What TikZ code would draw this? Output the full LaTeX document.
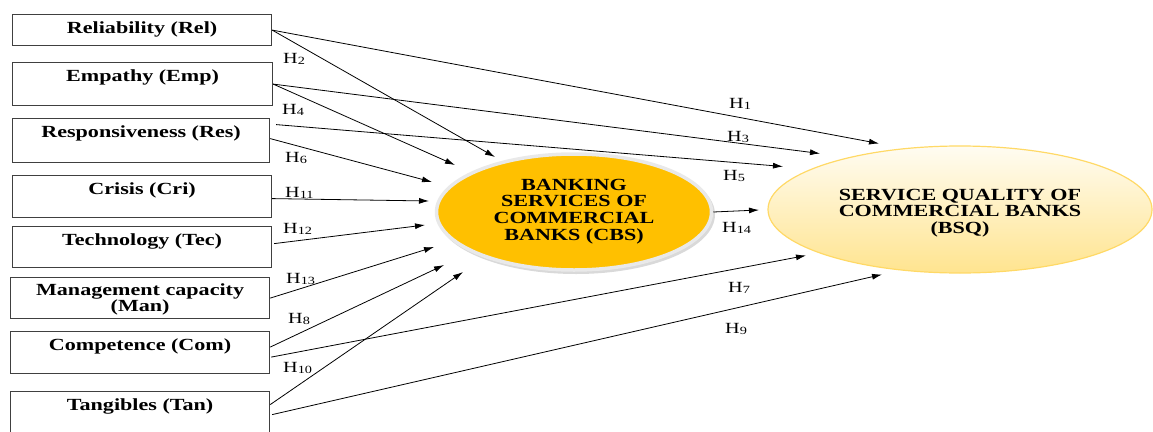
\documentclass[tikz,border=0pt]{standalone}
\usepackage{fontspec}
\setmainfont{Liberation Serif}
\newfontfamily\wideserif[FakeStretch=1.3]{Liberation Serif}
\usetikzlibrary{shapes.geometric,arrows.meta,calc}
\definecolor{cbsor}{HTML}{FFC000}
\definecolor{cbsrim}{HTML}{E9E9E9}
\definecolor{bsqtop}{HTML}{FFFCF2}
\definecolor{bsqbot}{HTML}{FFE48F}
\definecolor{bsqline}{HTML}{FFD966}
\definecolor{boxline}{HTML}{404040}
\newcommand\hyp[1]{H\raisebox{-1.5pt}{\fontsize{11}{11}\selectfont #1}}
\begin{document}
\begin{tikzpicture}[x=1pt,y=-1pt,
  basebox/.style={draw=boxline, line width=1.2pt, anchor=north west, inner xsep=0pt, inner ysep=0pt,
    font=\wideserif\bfseries\fontsize{17}{16}\selectfont},
  factor/.style={basebox, text height=19pt, text depth=#1},
  hlab/.style={anchor=base west, inner sep=0pt, font=\wideserif\fontsize{15.5}{16}\selectfont},
  arr/.style={-{Latex[length=10pt,width=6pt]}, line width=0.8pt},
  bigtext/.style={font=\wideserif\bfseries\fontsize{17}{16.8}\selectfont, align=center, inner sep=0pt}]
\useasboundingbox (0,0) rectangle (1153,431);

% factor boxes
\node[factor=12pt, minimum width=259pt] (rel) at (12,14) {Reliability (Rel)};
\node[factor=24pt, minimum width=260pt] (emp) at (12,62) {Empathy (Emp)};
\node[factor=25pt, minimum width=257pt] (res) at (12,118) {Responsiveness (Res)};
\node[factor=23pt, minimum width=259pt] (cri) at (12,175) {Crisis (Cri)};
\node[factor=22pt, minimum width=259pt] (tec) at (12,226) {Technology (Tec)};
\node[basebox, minimum width=259pt, minimum height=41pt, align=center] (man) at (10,277)
  {\raisebox{-2pt}[\height][\depth]{\begin{tabular}{@{}c@{}}Management capacity\\(Man)\end{tabular}}};
\node[factor=23pt, minimum width=259pt] (com) at (10,331) {Competence (Com)};
\node[factor=28pt, minimum width=259pt] (tan) at (10,391) {Tangibles (Tan)};

% ellipses
\fill[gray!55, opacity=0.55] (576,214.5) ellipse [x radius=139pt, y radius=59.5pt];
\node[ellipse, draw=cbsrim, line width=3.5pt, fill=cbsor, minimum width=275pt, minimum height=116pt,
  bigtext] (cbs) at (574,212)
  {\begin{tabular}{@{}c@{}}BANKING\\SERVICES OF\\COMMERCIAL\\BANKS (CBS)\end{tabular}};
\node[ellipse, draw=bsqline, line width=1.2pt, top color=bsqtop, bottom color=bsqbot,
  minimum width=384pt, minimum height=127pt, bigtext] (bsq) at (960,209.5)
  {\raisebox{-4pt}[\height][\depth]{\begin{tabular}{@{}c@{}}SERVICE QUALITY OF\\COMMERCIAL BANKS\\(BSQ)\end{tabular}}};

% connectors to CBS
\draw[arr] (rel.east) -- ([shift={(-79,-55)}]cbs.center);
\draw[arr] (emp.east) -- ([shift={(-119,-47)}]cbs.center);
\draw[arr] ([shift={(0,-2)}]res.east) -- ([shift={(-142,-30)}]cbs.center);
\draw[arr] ([shift={(0,2)}]cri.east) -- ([shift={(-145,-11)}]cbs.center);
\draw[arr] ([shift={(2,-3.5)}]tec.east) -- ([shift={(-149,13)}]cbs.center);
\draw[arr] (man.east) -- ([shift={(-140,35)}]cbs.center);
\draw[arr] ([shift={(0,-5.5)}]com.east) -- ([shift={(-130,53)}]cbs.center);
\draw[arr] ([shift={(0,-10.5)}]tan.east) -- ([shift={(-111,60)}]cbs.center);

% connectors to BSQ
\draw[arr] (rel.east) -- ([shift={(-81,-66)}]bsq.center);
\draw[arr] (emp.east) -- ([shift={(-140,-56)}]bsq.center);
\draw[arr] ([shift={(6,-16)}]res.east) -- ([shift={(-177,-43)}]bsq.center);
\draw[arr] (cbs.east) -- ([shift={(-201,0.5)}]bsq.center);
\draw[arr] ([shift={(1,4.5)}]com.east) -- ([shift={(-154,46)}]bsq.center);
\draw[arr] ([shift={(2,-0.5)}]tan.east) -- ([shift={(-78,65)}]bsq.center);

% hypothesis labels
\node[hlab] (h2) at (283,63) {\hyp{2}};
\node[hlab] (h4) at (282,114) {\hyp{4}};
\node[hlab] (h6) at (285,162) {\hyp{6}};
\node[hlab] (h11) at (285,197) {\hyp{11}};
\node[hlab] (h12) at (283,233) {\hyp{12}};
\node[hlab] (h13) at (286,283) {\hyp{13}};
\node[hlab] (h8) at (288,323) {\hyp{8}};
\node[hlab] (h10) at (283,372) {\hyp{10}};
\node[hlab] (h1) at (729,108) {\hyp{1}};
\node[hlab] (h3) at (727,141) {\hyp{3}};
\node[hlab] (h5) at (723,180) {\hyp{5}};
\node[hlab] (h14) at (722,232) {\hyp{14}};
\node[hlab] (h7) at (728,292) {\hyp{7}};
\node[hlab] (h9) at (725,333) {\hyp{9}};
\end{tikzpicture}
\end{document}
